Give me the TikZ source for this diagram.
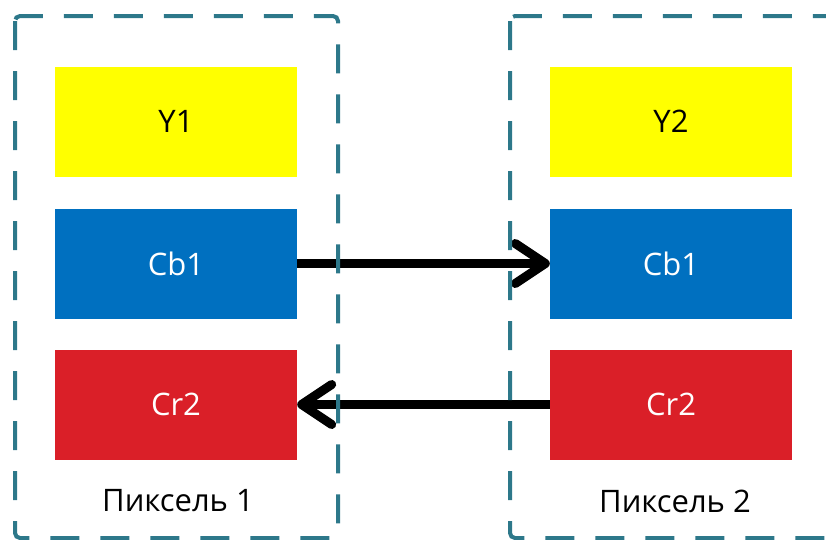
\documentclass[tikz,border=0pt]{standalone}
\usepackage{fontspec}
\setmainfont{Open Sans}
\usepackage{tikz}
\usetikzlibrary{arrows.meta,positioning}

\definecolor{lumyellow}{RGB}{255,255,0}
\definecolor{chromblue}{RGB}{0,112,192}
\definecolor{chromred}{RGB}{218,31,40}
\definecolor{frameteal}{RGB}{45,120,138}

\begin{document}
\begin{tikzpicture}[x=1pt,y=-1pt,
		comp/.style={rectangle,minimum width=242pt,minimum height=110pt,inner sep=0pt,font=\fontsize{31}{34}\selectfont},
		pixframe/.style={draw=frameteal,line width=4pt,dash pattern=on 29pt off 21pt,rounded corners=5pt},
		swap/.style={line width=9pt,-{Straight Barb[length=30pt,width=40pt,round]}},
		caption/.style={font=\fontsize{31}{34}\selectfont}]
	\clip (0,0) rectangle (826,539);
	% pixel 1
	\node[comp,fill=lumyellow] (y1) at (176,121.5) {Y1};
	\node[comp,fill=chromblue,text=white] (cb1) at (176,263.5) {Cb1};
	\node[comp,fill=chromred,text=white] (cr1) at (176,404.5) {Cr2};
	\node[caption] (lab1) at (178,501) {Пиксель 1};
	% pixel 2
	\node[comp,fill=lumyellow] (y2) at (671,121.5) {Y2};
	\node[comp,fill=chromblue,text=white] (cb2) at (671,263.5) {Cb1};
	\node[comp,fill=chromred,text=white] (cr2) at (671,404.5) {Cr2};
	\node[caption] (lab2) at (675,501) {Пиксель 2};
	% chroma exchange
	\draw[swap] (cb1.east) -- (cb2.west);
	\draw[swap] (cr2.west) -- (cr1.east);
	% pixel frames
	\draw[pixframe] (15,16) rectangle (338,538);
	\draw[pixframe] (510,16) rectangle (860,538);
\end{tikzpicture}
\end{document}
